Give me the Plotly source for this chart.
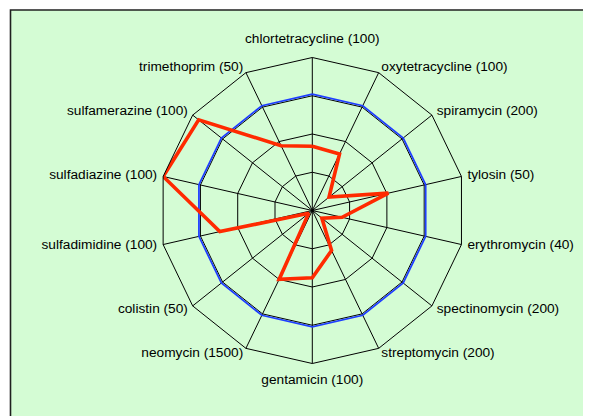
import math
import plotly.graph_objects as go

categories = ["chlortetracycline (100)", "oxytetracycline (100)", "spiramycin (200)",
              "tylosin (50)", "erythromycin (40)", "spectinomycin (200)",
              "streptomycin (200)", "gentamicin (100)", "neomycin (1500)",
              "colistin (50)", "sulfadimidine (100)", "sulfadiazine (100)",
              "sulfamerazine (100)", "trimethoprim (50)"]
reference_values = [76, 76, 76, 76, 76, 76, 76, 76, 76, 76, 76, 76, 76, 76]
sample_values = [42, 41, 14, 51, 20, 8, 29, 44, 50, 3, 62, 100, 95, 47]

OFF = 8  # page body margin
W, H = 591, 416
cx, cy, R = 312.3 - OFF, 210.5 - OFF, 153.0
R_SIDE = R * 1.04
R_VERT = R * 1.07

n = len(categories)
positions = []
for i in range(n):
    a = 360.0 * i / n
    s = math.sin(math.radians(a))
    if abs(s) < 0.05:
        positions.append("top center" if math.cos(math.radians(a)) > 0 else "bottom center")
    elif s > 0:
        positions.append("middle right")
    else:
        positions.append("middle left")

side = [i for i in range(n) if positions[i].startswith("middle")]
vert = [i for i in range(n) if not positions[i].startswith("middle")]


def dom(rad):
    return dict(x=[(cx - rad) / W, (cx + rad) / W], y=[(H - cy - rad) / H, (H - cy + rad) / H])


fig = go.Figure()
fig.add_trace(go.Scatterpolar(
    r=reference_values + reference_values[:1], theta=categories + categories[:1],
    mode="lines", line=dict(color="#1f3fff", width=1.8), showlegend=False))
fig.add_trace(go.Scatterpolar(
    r=sample_values + sample_values[:1], theta=categories + categories[:1],
    mode="lines", line=dict(color="#ff2a00", width=3.6), showlegend=False))
for idx, sp in ((side, "polar2"), (vert, "polar3")):
    fig.add_trace(go.Scatterpolar(
        r=[100] * len(idx), theta=[categories[i] for i in idx], mode="text",
        text=[categories[i] for i in idx], textposition=[positions[i] for i in idx],
        cliponaxis=False, subplot=sp,
        textfont=dict(family="Liberation Sans, Arial", size=13.7, color="black"),
        showlegend=False, hoverinfo="skip"))

hidden_angular = dict(direction="clockwise", rotation=90, visible=False,
                      categoryarray=categories, categoryorder="array")

bx0 = (10.5 - OFF) / W
by1 = 1 - (10 - OFF) / H
fig.update_layout(
    width=W, height=H,
    margin=dict(l=0, r=0, t=0, b=0),
    paper_bgcolor="white",
    font=dict(family="Liberation Sans, Arial", size=13.7, color="black"),
    polar=dict(
        domain=dom(R),
        bgcolor="rgba(0,0,0,0)",
        gridshape="linear",
        radialaxis=dict(range=[0, 100], tickvals=[25, 50, 75, 100], showticklabels=False,
                        ticks="", showline=False, gridcolor="black", gridwidth=1),
        angularaxis=dict(direction="clockwise", rotation=90, gridcolor="black",
                         linecolor="black", linewidth=1, gridwidth=1,
                         ticks="", showticklabels=False),
    ),
    polar2=dict(domain=dom(R_SIDE), bgcolor="rgba(0,0,0,0)", gridshape="linear",
                radialaxis=dict(range=[0, 100], visible=False), angularaxis=hidden_angular),
    polar3=dict(domain=dom(R_VERT), bgcolor="rgba(0,0,0,0)", gridshape="linear",
                radialaxis=dict(range=[0, 100], visible=False), angularaxis=hidden_angular),
    shapes=[
        dict(type="rect", xref="paper", yref="paper", layer="below",
             x0=bx0, x1=1.2, y0=-0.2, y1=by1,
             fillcolor="#d4fcd4", line=dict(width=0)),
        dict(type="path", xref="paper", yref="paper", layer="below",
             path=f"M {bx0},-0.2 L {bx0},{by1} L 1.2,{by1}",
             line=dict(color="#202020", width=1.6)),
    ],
)
fig.write_html("out.html")
